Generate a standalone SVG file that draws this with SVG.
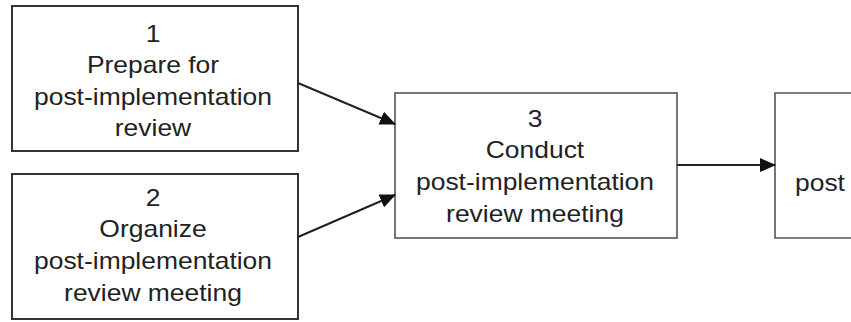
<svg xmlns="http://www.w3.org/2000/svg" width="851" height="322" viewBox="0 0 851 322">
<style>
.box{fill:#fff;stroke:#333;stroke-width:2}
.box2{fill:#fff;stroke:#555;stroke-width:1.6}
.t{font-family:"Liberation Sans",Arial,Helvetica,sans-serif;font-size:23px;fill:#222;text-anchor:middle}
.ts{font-family:"Liberation Sans",Arial,Helvetica,sans-serif;font-size:23px;fill:#222}
.c{fill:none;stroke:#222;stroke-width:2}
</style>
<defs>
<marker id="ah" viewBox="0 0 16 14" refX="15" refY="7" markerWidth="16" markerHeight="14" markerUnits="userSpaceOnUse" orient="auto">
<path d="M0,0 L16,7 L0,14 z" fill="#111"/>
</marker>
</defs>
<rect width="851" height="322" fill="#fff"/>
<g id="node1">
<rect class="box" x="12" y="6" width="286" height="145"/>
<g transform="translate(153,0) scale(1.15,1)">
<text class="t" x="0" y="42">1</text>
<text class="t" x="0" y="73">Prepare for</text>
<text class="t" x="0" y="105">post-implementation</text>
<text class="t" x="0" y="136">review</text>
</g>
</g>
<g id="node2">
<rect class="box" x="12" y="174" width="286" height="145"/>
<g transform="translate(153,0) scale(1.15,1)">
<text class="t" x="0" y="206">2</text>
<text class="t" x="0" y="237">Organize</text>
<text class="t" x="0" y="269">post-implementation</text>
<text class="t" x="0" y="301">review meeting</text>
</g>
</g>
<g id="node3">
<rect class="box2" x="395" y="93" width="282" height="145"/>
<g transform="translate(535,0) scale(1.15,1)">
<text class="t" x="0" y="127">3</text>
<text class="t" x="0" y="158">Conduct</text>
<text class="t" x="0" y="190">post-implementation</text>
<text class="t" x="0" y="222">review meeting</text>
</g>
</g>
<g id="node4">
<path class="box2" d="M852,93 H775 V238 H852"/>
<g transform="translate(795,0) scale(1.15,1)">
<text class="ts" x="0" y="191">post</text>
</g>
</g>
<g id="connectors">
<line class="c" x1="298" y1="83" x2="395" y2="124" marker-end="url(#ah)"/>
<line class="c" x1="298" y1="237" x2="395" y2="195" marker-end="url(#ah)"/>
<line class="c" x1="677" y1="165" x2="775" y2="165" marker-end="url(#ah)"/>
</g>
</svg>
